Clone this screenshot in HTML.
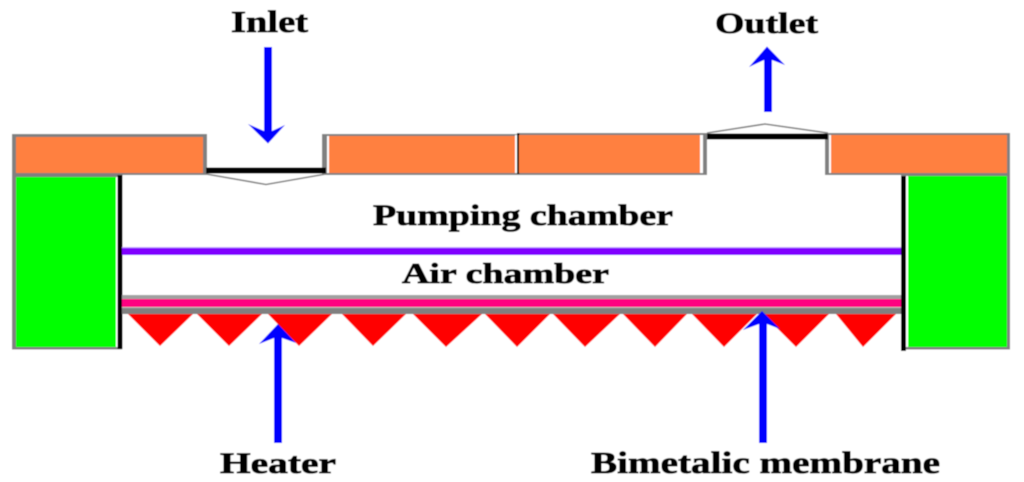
<!DOCTYPE html>
<html><head><meta charset="utf-8"><style>
html,body{margin:0;padding:0;background:#fff;width:1024px;height:482px;overflow:hidden}
svg{display:block}
text{font-family:"Liberation Serif",serif;font-weight:bold;fill:#000;stroke:#000;stroke-width:.8}
</style></head><body>
<svg width="1024" height="482" viewBox="0 0 1024 482" xmlns="http://www.w3.org/2000/svg">
<defs><filter id="b" x="0" y="0" width="100%" height="100%"><feGaussianBlur stdDeviation="0.45"/></filter></defs>
<g filter="url(#b)">
<rect width="1024" height="482" fill="#fff"/>

<!-- top plate pieces -->
<path d="M12 134H207V175H12Z" fill="#808080"/>
<rect x="16" y="137" width="187" height="36" fill="#ff8040"/>
<rect x="322" y="134" width="195" height="41" fill="#808080"/>
<rect x="327" y="136" width="2" height="37" fill="#fff"/>
<rect x="329" y="136" width="186" height="37" fill="#ff8040"/>
<rect x="515" y="135" width="2" height="38" fill="#fff"/>
<rect x="517" y="133" width="190" height="42" fill="#808080"/>
<rect x="517" y="133" width="2.5" height="41" fill="#111"/>
<rect x="519" y="135" width="181" height="38" fill="#ff8040"/>
<rect x="700" y="135" width="3" height="38" fill="#fff"/>
<rect x="825" y="133" width="185" height="42" fill="#808080"/>
<rect x="829" y="135" width="2" height="38" fill="#fff"/>
<rect x="831" y="135" width="176" height="38" fill="#ff8040"/>

<!-- valves -->
<rect x="206" y="167.500" width="120" height="6" fill="#000"/>
<path d="M206 174L266 184.500L326 174" fill="none" stroke="#808080" stroke-width="1.6"/>
<rect x="707" y="133.500" width="121" height="6" fill="#000"/>
<path d="M707 133L765 124L828 133" fill="none" stroke="#808080" stroke-width="1.6"/>

<!-- left block -->
<rect x="12" y="174" width="110" height="175.500" fill="#808080"/>
<rect x="16" y="177" width="100" height="170" fill="#00ff00"/>
<rect x="116" y="177" width="2" height="170" fill="#fff"/>
<rect x="117.500" y="175" width="5" height="174" fill="#000"/>

<!-- right block -->
<rect x="901" y="174" width="109" height="175.500" fill="#808080"/>
<rect x="906" y="176" width="2" height="171" fill="#fff"/>
<rect x="908" y="176" width="99" height="171" fill="#00ff00"/>
<rect x="901" y="176" width="5" height="175" fill="#000"/>
<rect x="1007" y="174" width="3" height="175" fill="#808080"/>

<!-- membranes -->
<rect x="122" y="247" width="779" height="2" fill="#c8a0ff"/>
<rect x="122" y="248" width="779" height="7" fill="#8000ff"/>
<rect x="122" y="295" width="779" height="4" fill="#a0a0a0"/>
<rect x="122" y="299" width="779" height="8" fill="#ff0080"/>
<rect x="122" y="307" width="779" height="1" fill="#c0c0c0"/>
<rect x="122" y="308" width="779" height="6" fill="#808080"/>

<!-- heaters -->
<g fill="#ff0000">
<path d="M128 314H193L160 346Z"/>
<path d="M197 314H262L229 346Z"/>
<path d="M268 314H332L299 346Z"/>
<path d="M342 314H406L373 346Z"/>
<path d="M413 314H482L446 347Z"/>
<path d="M485 314H550L517 347Z"/>
<path d="M553 314H620L585 347Z"/>
<path d="M623 314H687L655 347Z"/>
<path d="M692 314H757L724 347Z"/>
<path d="M763 314H829L796 347Z"/>
<path d="M836 314H896L863 347Z"/>
</g>

<!-- arrows -->
<g fill="#0000ff">
<path d="M264 47H272V131L285 125L268 143.500L248 124L264 131Z"/>
<path d="M764 112H772V60L785 65L767 46.500L749 67L764 60Z"/>
<path d="M274 443H282V338L296 343L278 324L259 344L274 338Z"/>
<path d="M759 443H767V324L780 329L762 311L743 330L759 324Z"/>
</g>

<!-- labels -->
<text x="231" y="32" font-size="31" textLength="77" lengthAdjust="spacingAndGlyphs">Inlet</text>
<text x="715" y="33" font-size="30" textLength="103" lengthAdjust="spacingAndGlyphs">Outlet</text>
<text x="373" y="225" font-size="30" textLength="300" lengthAdjust="spacingAndGlyphs">Pumping chamber</text>
<text x="402" y="283" font-size="29" textLength="207" lengthAdjust="spacingAndGlyphs">Air chamber</text>
<text x="220" y="473" font-size="30" textLength="116" lengthAdjust="spacingAndGlyphs">Heater</text>
<text x="591" y="473" font-size="31" textLength="349" lengthAdjust="spacingAndGlyphs">Bimetalic membrane</text>
</g>
</svg>
</body></html>
